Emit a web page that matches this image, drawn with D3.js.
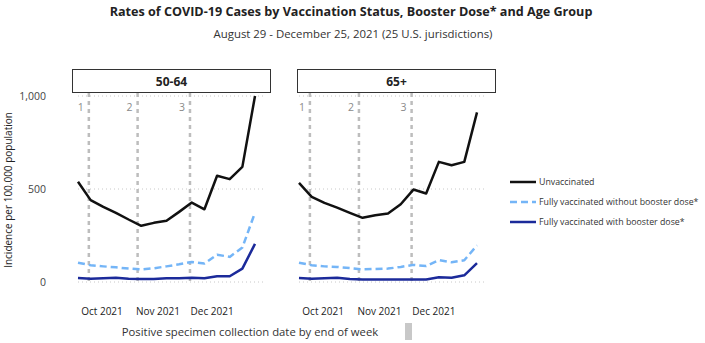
<!DOCTYPE html>
<html><head><meta charset="utf-8">
<script src="https://cdn.jsdelivr.net/npm/d3@7"></script>
<style>body{margin:0;background:#fff;}svg{display:block;font-family:"Open Sans",sans-serif;}</style>
</head><body>
<svg id="c" width="705" height="343"></svg>
<script>
const weekEnds = ["2021-09-18","2021-09-25","2021-10-02","2021-10-09","2021-10-16","2021-10-23","2021-10-30","2021-11-06","2021-11-13","2021-11-20","2021-11-27","2021-12-04","2021-12-11","2021-12-18","2021-12-25"];
const ageGroups = ["50-64","65+"];
const seriesNames = ["Unvaccinated","Fully vaccinated without booster dose*","Fully vaccinated with booster dose*"];
const unvax_50_64 = [539,440,404,372,336,302,318,329,377,427,391,571,553,619,1000];
const noBooster_50_64 = [104,90,84,79,72,68,74,84,95,108,99,147,135,185,373];
const booster_50_64 = [22,18,20,23,18,16,16,20,20,23,20,31,31,72,205];
const unvax_65 = [533,458,425,400,372,345,359,368,418,497,476,646,628,646,912];
const noBooster_65 = [104,90,84,81,75,68,70,72,81,92,86,118,106,117,197];
const booster_65 = [22,18,20,23,16,14,14,14,14,14,14,25,23,36,102];
const boosterEvents = [{label:"1",date:"2021-09-24"},{label:"2",date:"2021-10-21"},{label:"3",date:"2021-11-19"}];
const yTicks = [0,500,1000];

const colors = ["#111111","#74b5f7","#1b2a9a"];
const dashes = [null,"7,4",null];
const parse = d3.timeParse("%Y-%m-%d");
const dates = weekEnds.map(parse);
const panelData = [[unvax_50_64,noBooster_50_64,booster_50_64],[unvax_65,noBooster_65,booster_65]];

const svg = d3.select("#c");
const y = d3.scaleLinear().domain([0,1000]).range([282,96]);

// Title
svg.append("text").attr("x",351).attr("y",11).attr("text-anchor","middle").attr("dominant-baseline","central")
  .attr("font-size",12.6).attr("font-weight","bold").attr("fill","#222")
  .text("Rates of COVID-19 Cases by Vaccination Status, Booster Dose* and Age Group");
svg.append("text").attr("x",353).attr("y",33).attr("text-anchor","middle").attr("dominant-baseline","central")
  .attr("font-size",11.4).attr("fill","#333")
  .text("August 29 - December 25, 2021 (25 U.S. jurisdictions)");

// Y axis label
svg.append("text").attr("transform","translate(8,190) rotate(-90)").attr("text-anchor","middle").attr("dominant-baseline","central")
  .attr("font-size",10).attr("fill","#222").text("Incidence per 100,000 population");

// Y tick labels
svg.append("g").selectAll("text").data(yTicks).join("text")
  .attr("x",46).attr("y",d=>y(d)).attr("text-anchor","end").attr("dominant-baseline","central")
  .attr("font-size",10.5).attr("fill","#444").text(d=>d3.format(",")(d));

const panels = [
  {box:72, plotL:78, plotR:255, gridR:263},
  {box:297, plotL:299, plotR:477, gridR:485}
];

panels.forEach((p,i)=>{
  const g = svg.append("g");
  const x = d3.scaleTime().domain([dates[0],dates[dates.length-1]]).range([p.plotL,p.plotR]);
  g.selectAll("line.h").data(yTicks).join("line")
    .attr("x1",p.plotL).attr("x2",p.gridR).attr("y1",d=>y(d)).attr("y2",d=>y(d))
    .attr("stroke","#c8c8c8").attr("stroke-width",1).attr("stroke-dasharray","1,3");
  boosterEvents.forEach(ev=>{
    const xx = x(parse(ev.date));
    g.append("line").attr("x1",xx).attr("x2",xx).attr("y1",93).attr("y2",284)
      .attr("stroke","#bdbdbd").attr("stroke-width",2.5).attr("stroke-dasharray","4,4");
    g.append("text").attr("x",xx-5).attr("y",107).attr("text-anchor","end").attr("dominant-baseline","central")
      .attr("font-size",10.5).attr("fill","#8a8a8a").text(ev.label);
  });
  g.append("rect").attr("x",p.box+0.5).attr("y",69.5).attr("width",198).attr("height",23)
    .attr("fill","#fff").attr("stroke","#333").attr("stroke-width",1);
  g.append("text").attr("x",p.box+99.5).attr("y",81).attr("text-anchor","middle").attr("dominant-baseline","central")
    .attr("font-size",12).attr("font-weight","bold").attr("fill","#222").text(ageGroups[i]);
  const ax = d3.axisBottom(x).ticks(d3.timeMonth.every(1)).tickFormat(d3.timeFormat("%b %Y")).tickSize(0);
  const axg = g.append("g").attr("transform","translate(0,305)").call(ax);
  axg.select(".domain").remove();
  axg.selectAll("text").attr("font-size",10).attr("fill","#222").attr("font-family","Open Sans, sans-serif");
  const line = d3.line().x((d,k)=>x(dates[k])).y(d=>y(d));
  [2,1,0].forEach(s=>{
    g.append("path").datum(panelData[i][s]).attr("d",line).attr("fill","none")
      .attr("stroke",colors[s]).attr("stroke-width",2.5).attr("stroke-linejoin","round")
      .attr("stroke-dasharray",dashes[s]);
  });
});

svg.append("text").attr("x",250).attr("y",331).attr("text-anchor","middle").attr("dominant-baseline","central")
  .attr("font-size",11.3).attr("fill","#333").text("Positive specimen collection date by end of week");
svg.append("rect").attr("x",405).attr("y",323).attr("width",7).attr("height",17).attr("fill","#c8c8c8");

const lg = svg.append("g");
seriesNames.forEach((n,k)=>{
  const yy = 182 + k*20;
  lg.append("line").attr("x1",510).attr("x2",536).attr("y1",yy).attr("y2",yy)
    .attr("stroke",colors[k]).attr("stroke-width",2.5).attr("stroke-dasharray",dashes[k]);
  lg.append("text").attr("x",539).attr("y",yy).attr("dominant-baseline","central")
    .attr("font-size",8.8).attr("fill","#333").text(n);
});
</script>
</body></html>
